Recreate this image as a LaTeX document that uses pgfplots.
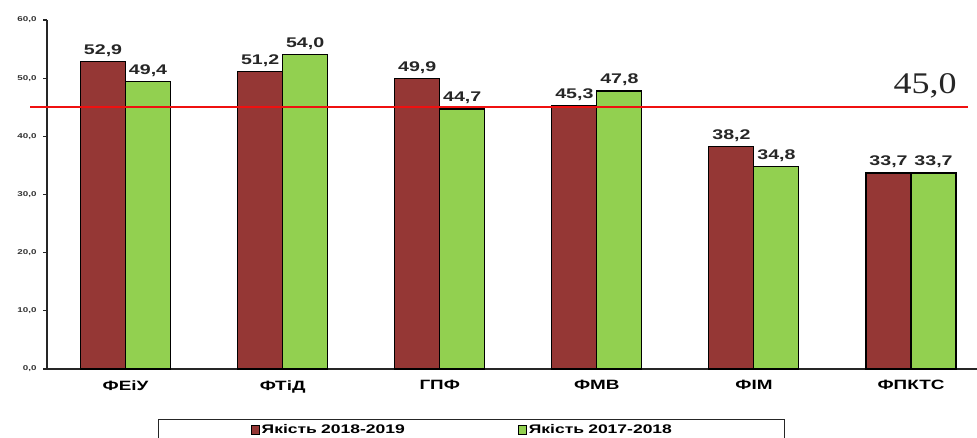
\documentclass[border=0pt]{standalone}
\usepackage{fontspec}
\setmainfont{Liberation Sans}[FakeStretch=1.4]
\newfontfamily\serifnum{Liberation Serif}[FakeStretch=1.2]
\usepackage{pgfplots}
\pgfplotsset{compat=1.18}
\definecolor{barred}{HTML}{953735}
\definecolor{bargreen}{HTML}{92D050}
\definecolor{limitred}{HTML}{F01010}
\begin{document}
\begin{tikzpicture}
\useasboundingbox (0,0) rectangle (977pt,437pt);
\begin{axis}[
    at={(47pt,68pt)}, anchor=south west,
    scale only axis,
    width=930pt, height=349pt,
    xmin=-0.5, xmax=5.42,
    ymin=0, ymax=60,
    axis x line*=bottom,
    axis y line*=left,
    axis line style={black!85, line width=1.3pt},
    clip=false,
    ybar=0pt,
    bar width=45pt,
    xtick={0,1,2,3,4,5},
    xticklabels={ФЕіУ, ФТіД, ГПФ, ФМВ, ФІМ, ФПКТС},
    x tick style={draw=none},
    xticklabel style={font=\fontsize{13.5}{15}\selectfont\bfseries, yshift=-4pt},
    ytick={0,10,...,60},
    tick align=outside,
    major tick length=4pt,
    y tick style={black!85, line width=1.2pt},
    yticklabel style={font=\fontsize{7}{8}\selectfont\bfseries, text=black!80, xshift=-3pt,
        /pgf/number format/.cd, fixed, fixed zerofill, precision=1, use comma, assume math mode=true},
    nodes near coords,
    every node near coord/.append style={font=\fontsize{14}{16}\selectfont\bfseries, text=black!85, yshift=1pt,
        /pgf/number format/.cd, fixed, fixed zerofill, precision=1, use comma, assume math mode=true},
    legend columns=2,
    legend style={
        at={(0.1194,-0.1433)}, anchor=north west,
        draw=black!85, line width=1.2pt,
        inner xsep=92pt, inner ysep=3pt,
        font=\fontsize{12.5}{14}\selectfont\bfseries,
        nodes={text width=162pt, align=left},
        /tikz/every even column/.append style={column sep=92pt},
    },
    legend image code/.code={\draw[#1, draw=black, line width=0.6pt] (0pt,-4pt) rectangle (8.5pt,4.5pt);},
]
\addplot[fill=barred, draw=black, line width=1.1pt] coordinates {
    (0,52.9) (1,51.2) (2,49.9) (3,45.3) (4,38.2) (5,33.7)
};
\addplot[fill=bargreen, draw=black, line width=1.1pt] coordinates {
    (0,49.4) (1,54.0) (2,44.7) (3,47.8) (4,34.8) (5,33.7)
};
\legend{Якість 2018-2019, Якість 2017-2018}
% threshold line
\draw[draw=limitred, line width=1.6pt] (axis cs:-0.608,45) -- (axis cs:5.36,45);
\node[font=\fontsize{30}{30}\selectfont\serifnum, text=black!85] at (axis cs:5.09,48.7) {45,0};
\end{axis}
\end{tikzpicture}
\end{document}
